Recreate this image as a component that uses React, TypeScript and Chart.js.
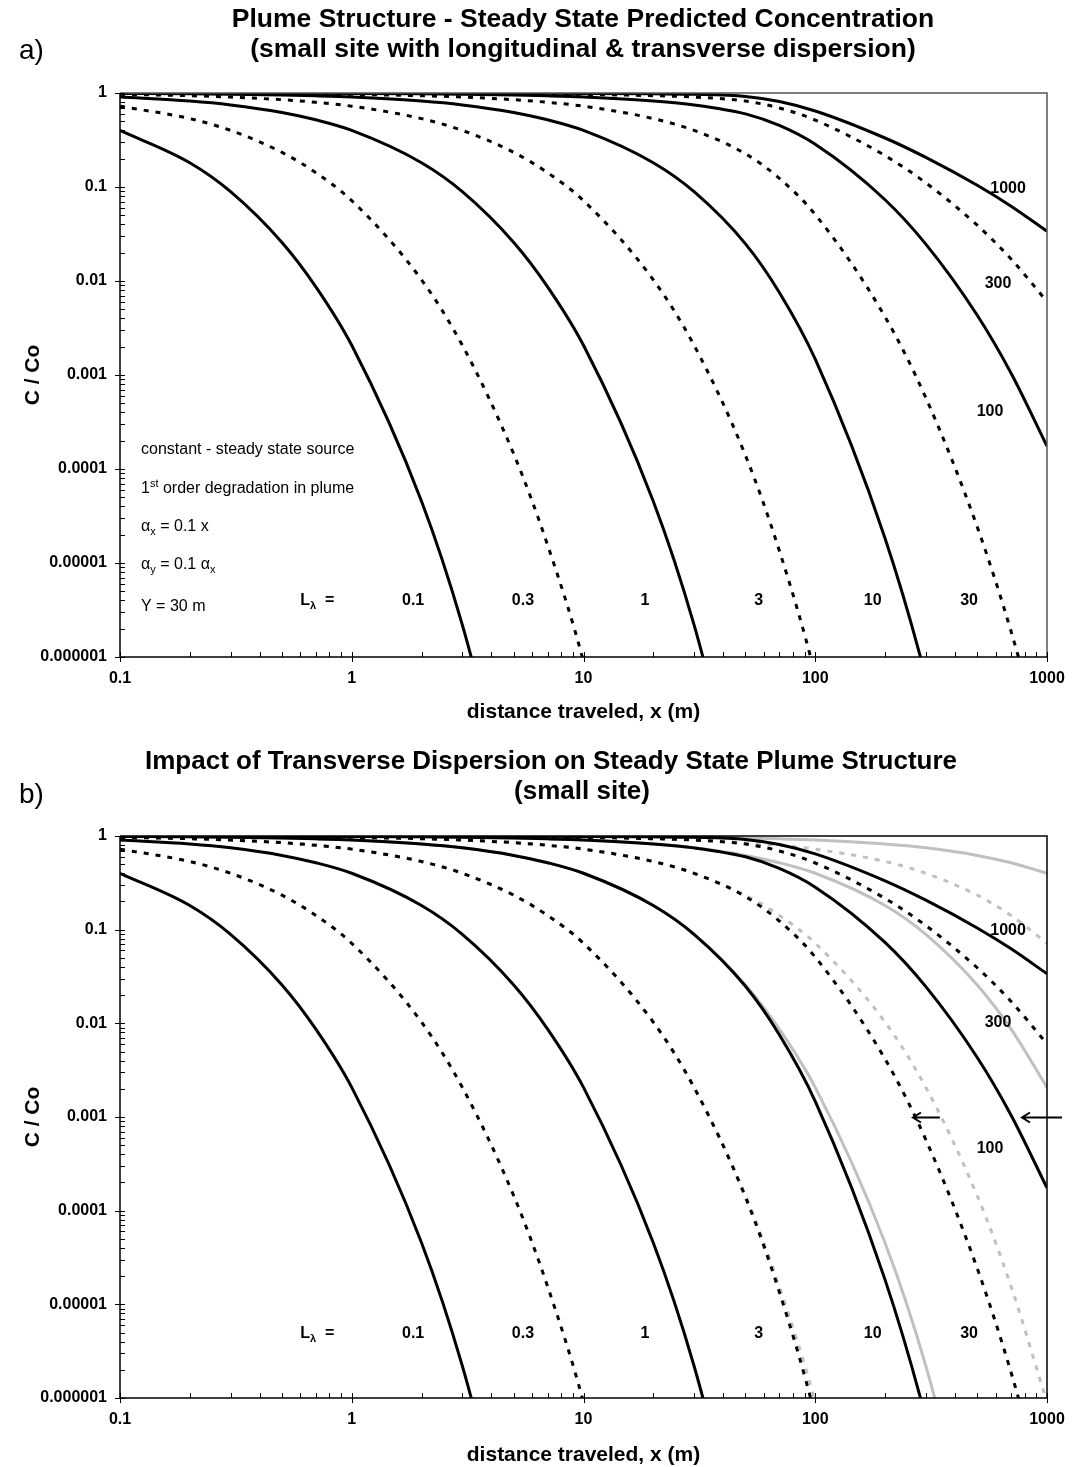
import React, { useEffect, useRef } from 'react';
import { Chart, registerables } from 'chart.js';

Chart.register(...registerables);

// distance traveled, x (m)
const xValues = [0.1, 0.2, 0.3, 0.5, 0.7, 1, 2, 3, 5, 7, 10, 20, 30, 50, 70, 100, 200, 300, 500, 700, 1000];

// C/Co with longitudinal & transverse dispersion (black curves), one per L_lambda
const cL0_1 = [0.4001, 0.1812, 0.08925, 0.02572, 0.008679, 0.00207, 4.54e-5, 2.199e-6, 1.665e-8, null, null, null, null, null, null, null, null, null, null, null, null];
const cL0_3 = [0.724, 0.534, 0.4001, 0.2334, 0.142, 0.07154, 0.01031, 0.00207, 1.442e-4, 1.553e-5, 8.93e-7, 5.6e-10, null, null, null, null, null, null, null, null, null];
const cL1 = [0.9057, 0.8219, 0.7472, 0.6205, 0.5185, 0.4001, 0.1812, 0.08925, 0.02572, 0.008679, 0.00207, 4.54e-5, 2.198e-6, 1.61e-8, null, null, null, null, null, null, null];
const cL3 = [0.9673, 0.9359, 0.9057, 0.8488, 0.796, 0.724, 0.534, 0.4001, 0.2334, 0.142, 0.07154, 0.01031, 0.002069, 1.393e-4, 1.352e-5, 6.35e-7, 2.3e-10, null, null, null, null];
const cL10 = [0.9901, 0.9802, 0.9705, 0.9515, 0.9329, 0.9057, 0.8219, 0.7472, 0.6205, 0.5185, 0.4001, 0.1812, 0.08921, 0.02485, 0.007553, 0.001472, 1.835e-5, 6.08e-7, 2.8e-9, null, null];
const cL30 = [0.9967, 0.9934, 0.9901, 0.9835, 0.977, 0.9673, 0.9359, 0.9057, 0.8488, 0.796, 0.724, 0.534, 0.3999, 0.2255, 0.1236, 0.05088, 0.004167, 5.72e-4, 2.423e-5, 1.87e-6, 7.54e-8];
const cL100 = [0.999, 0.998, 0.997, 0.995, 0.993, 0.9901, 0.9802, 0.9705, 0.9515, 0.9329, 0.9057, 0.8219, 0.7469, 0.5995, 0.4512, 0.2845, 0.07322, 0.02466, 0.004321, 0.001045, 1.749e-4];
const cL300 = [0.9997, 0.9993, 0.999, 0.9983, 0.9977, 0.9967, 0.9934, 0.9901, 0.9835, 0.977, 0.9673, 0.9359, 0.9053, 0.82, 0.6928, 0.5149, 0.2158, 0.1106, 0.03921, 0.0171, 0.006043];
const cL1000 = [0.9999, 0.9998, 0.9997, 0.9995, 0.9993, 0.999, 0.998, 0.997, 0.995, 0.993, 0.9901, 0.9802, 0.9701, 0.9192, 0.8119, 0.6441, 0.3321, 0.2065, 0.1042, 0.06243, 0.0338];

// C/Co without transverse dispersion (grey curves, panel b)
const gL3 = [0.9673, 0.9359, 0.9057, 0.8488, 0.796, 0.724, 0.534, 0.4001, 0.2334, 0.142, 0.07154, 0.01031, 0.00207, 1.442e-4, 1.553e-5, 8.93e-7, 5.6e-10, null, null, null, null];
const gL10 = [0.9901, 0.9802, 0.9705, 0.9515, 0.9329, 0.9057, 0.8219, 0.7472, 0.6205, 0.5185, 0.4001, 0.1812, 0.08925, 0.02572, 0.008679, 0.00207, 4.54e-5, 2.199e-6, 1.665e-8, null, null];
const gL30 = [0.9967, 0.9934, 0.9901, 0.9835, 0.977, 0.9673, 0.9359, 0.9057, 0.8488, 0.796, 0.724, 0.534, 0.4001, 0.2334, 0.142, 0.07154, 0.01031, 0.00207, 1.442e-4, 1.553e-5, 8.93e-7];
const gL100 = [0.999, 0.998, 0.997, 0.995, 0.993, 0.9901, 0.9802, 0.9705, 0.9515, 0.9329, 0.9057, 0.8219, 0.7472, 0.6205, 0.5185, 0.4001, 0.1812, 0.08925, 0.02572, 0.008679, 0.00207];
const gL300 = [0.9997, 0.9993, 0.999, 0.9983, 0.9977, 0.9967, 0.9934, 0.9901, 0.9835, 0.977, 0.9673, 0.9359, 0.9057, 0.8488, 0.796, 0.724, 0.534, 0.4001, 0.2334, 0.142, 0.07154];
const gL1000 = [0.9999, 0.9998, 0.9997, 0.9995, 0.9993, 0.999, 0.998, 0.997, 0.995, 0.993, 0.9901, 0.9802, 0.9705, 0.9515, 0.9329, 0.9057, 0.8219, 0.7472, 0.6205, 0.5185, 0.4001];

const xTickLabels = ['0.1', '1', '10', '100', '1000'];
const yTickLabels = ['0.000001', '0.00001', '0.0001', '0.001', '0.01', '0.1', '1'];

const rightLabels = ['1000', '300', '100'];
const bottomLabels = ['0.1', '0.3', '1', '3', '10', '30'];

const FONT = '"Liberation Sans", Arial, Helvetica, sans-serif';

type Part = { t: string; bold?: boolean; small?: boolean; dy?: number };

function drawRich(ctx: CanvasRenderingContext2D, parts: Part[], x: number, y: number, size: number, align: 'left' | 'center') {
  const fontOf = (p: Part) => `${p.bold ? 'bold ' : ''}${p.small ? Math.round(size * 0.68) : size}px ${FONT}`;
  let total = 0;
  for (const p of parts) { ctx.font = fontOf(p); total += ctx.measureText(p.t).width; }
  let cx = align === 'center' ? x - total / 2 : x;
  ctx.textAlign = 'left';
  ctx.textBaseline = 'alphabetic';
  for (const p of parts) {
    ctx.font = fontOf(p);
    ctx.fillText(p.t, cx, y + size * 0.36 + (p.dy || 0));
    cx += ctx.measureText(p.t).width;
  }
}

function isDecade(v: number) {
  const e = Math.log10(v);
  return Math.abs(e - Math.round(e)) < 1e-6;
}

type PanelCfg = {
  height: number;
  areaTop: number;
  bottomSpace: number;
  titles: string[];
  titleX: number[];
  titleY: number[];
  titleSize: number;
  letter: string;
  letterY: number;
  xTitleY: number;
  grey: boolean;
  rightLabelPos: [number, number][];
  bottomLabelY: number;
  notes: boolean;
  arrows: boolean;
  boxColor: string;
};

const bottomLabelX = [1.84, 5.48, 18.4, 57, 177, 461];
const lLambdaX = 0.71;

function makeConfig(p: PanelCfg): any {
  const black = [
    { v: cL0_1, d: false }, { v: cL0_3, d: true }, { v: cL1, d: false }, { v: cL3, d: true }, { v: cL10, d: false },
    { v: cL30, d: true }, { v: cL100, d: false }, { v: cL300, d: true }, { v: cL1000, d: false },
  ];
  const grey = [
    { v: gL3, d: true }, { v: gL10, d: false }, { v: gL30, d: true }, { v: gL100, d: false }, { v: gL300, d: true }, { v: gL1000, d: false },
  ];
  const mk = (s: { v: (number | null)[]; d: boolean }, color: string, order: number) => ({
    data: xValues.map((x, i) => ({ x, y: s.v[i] })),
    borderColor: color,
    borderWidth: 3,
    borderDash: s.d ? [5, 7] : [],
    borderCapStyle: 'butt',
    pointRadius: 0,
    fill: false,
    cubicInterpolationMode: 'monotone',
    order,
  });
  const datasets: any[] = black.map((s) => mk(s, '#000000', 0));
  if (p.grey) grey.forEach((s) => datasets.push(mk(s, '#c0c0c0', 1)));

  const overlay = {
    id: 'overlay',
    afterDraw(chart: any) {
      const ctx: CanvasRenderingContext2D = chart.ctx;
      const a = chart.chartArea;
      const xs = chart.scales.x;
      const ys = chart.scales.y;
      ctx.save();
      // box
      ctx.strokeStyle = p.boxColor;
      ctx.lineWidth = 1.5;
      ctx.beginPath();
      ctx.moveTo(a.left, a.top);
      ctx.lineTo(a.right, a.top);
      ctx.lineTo(a.right, a.bottom);
      ctx.stroke();
      // axes
      ctx.strokeStyle = '#000';
      ctx.lineWidth = 1.5;
      ctx.beginPath();
      ctx.moveTo(a.left, a.top);
      ctx.lineTo(a.left, a.bottom);
      ctx.lineTo(a.right, a.bottom);
      ctx.stroke();
      // tick marks
      ctx.lineWidth = 1;
      ctx.beginPath();
      for (let k = -6; k <= 0; k++) {
        for (let m = 1; m <= 9; m++) {
          const v = m * Math.pow(10, k);
          if (v > 1.0000001) break;
          const y = Math.round(ys.getPixelForValue(v)) + 0.5;
          ctx.moveTo(m === 1 ? a.left - 5 : a.left, y);
          ctx.lineTo(a.left + 5, y);
        }
      }
      for (let k = -1; k <= 3; k++) {
        for (let m = 1; m <= 9; m++) {
          const v = m * Math.pow(10, k);
          if (v > 1000.0001) break;
          const x = Math.round(xs.getPixelForValue(v)) + 0.5;
          ctx.moveTo(x, m === 1 ? a.bottom + 5 : a.bottom);
          ctx.lineTo(x, a.bottom - 5);
        }
      }
      ctx.stroke();

      ctx.fillStyle = '#000';
      // titles
      ctx.font = `bold ${p.titleSize}px ${FONT}`;
      ctx.textAlign = 'center';
      ctx.textBaseline = 'middle';
      p.titles.forEach((t, i) => ctx.fillText(t, p.titleX[i], p.titleY[i]));
      ctx.font = `28px ${FONT}`;
      ctx.textAlign = 'left';
      ctx.fillText(p.letter, 19, p.letterY);
      // axis titles
      const cx = (a.left + a.right) / 2;
      ctx.font = `bold 21px ${FONT}`;
      ctx.textAlign = 'center';
      ctx.fillText('distance traveled, x (m)', cx, p.xTitleY);
      ctx.save();
      ctx.translate(33, (a.top + a.bottom) / 2);
      ctx.rotate(-Math.PI / 2);
      ctx.fillText('C / Co', 0, 0);
      ctx.restore();

      // curve labels
      rightLabels.forEach((t, i) => {
        const [lx, ly] = p.rightLabelPos[i];
        drawRich(ctx, [{ t, bold: true }], xs.getPixelForValue(lx), ys.getPixelForValue(ly), 16, 'center');
      });
      const by = ys.getPixelForValue(p.bottomLabelY);
      bottomLabels.forEach((t, i) => {
        drawRich(ctx, [{ t, bold: true }], xs.getPixelForValue(bottomLabelX[i]), by, 16, 'center');
      });
      drawRich(ctx, [{ t: 'L', bold: true }, { t: 'λ', bold: true, small: true, dy: 4 }, { t: '  =', bold: true }], xs.getPixelForValue(lLambdaX), by, 16, 'center');

      if (p.notes) {
        const nx = a.left + 21;
        const notes: [Part[], number][] = [
          [[{ t: 'constant - steady state source' }], 355],
          [[{ t: '1' }, { t: 'st', small: true, dy: -6 }, { t: ' order degradation in plume' }], 394],
          [[{ t: 'α' }, { t: 'x', small: true, dy: 4 }, { t: ' = 0.1 x' }], 432],
          [[{ t: 'α' }, { t: 'y', small: true, dy: 4 }, { t: ' = 0.1 α' }, { t: 'x', small: true, dy: 4 }], 470],
          [[{ t: 'Y = 30 m' }], 512],
        ];
        notes.forEach(([parts, dy]) => drawRich(ctx, parts, nx, a.top + dy, 16, 'left'));
      }

      if (p.arrows) {
        const arrowDefs: [number, number][] = [[345, 264], [1161, 780]];
        const ay = Math.round(ys.getPixelForValue(0.001)) + 0.5;
        ctx.strokeStyle = '#000';
        ctx.lineWidth = 2;
        arrowDefs.forEach(([from, to]) => {
          const x0 = xs.getPixelForValue(from);
          const x1 = xs.getPixelForValue(to);
          ctx.beginPath();
          ctx.moveTo(x0, ay);
          ctx.lineTo(x1, ay);
          ctx.moveTo(x1 + 8, ay - 5);
          ctx.lineTo(x1, ay);
          ctx.lineTo(x1 + 8, ay + 5);
          ctx.stroke();
        });
      }
      ctx.restore();
    },
  };

  const tickFont = { family: FONT, size: 16, weight: 'bold' };
  return {
    type: 'line',
    data: { datasets },
    options: {
      responsive: false,
      animation: false,
      events: [],
      layout: { padding: { top: p.areaTop, right: 25, left: 0, bottom: 0 } },
      plugins: { legend: { display: false }, tooltip: { enabled: false }, title: { display: false } },
      scales: {
        x: {
          type: 'logarithmic',
          min: 0.1,
          max: 1000,
          position: 'bottom',
          grid: { display: false, drawTicks: false },
          border: { display: false },
          ticks: {
            autoSkip: false,
            maxRotation: 0,
            padding: 12,
            color: '#000',
            font: tickFont,
            callback: (v: number) => (isDecade(v) ? xTickLabels[Math.round(Math.log10(v)) + 1] : ''),
          },
          afterFit: (s: any) => { s.height = p.bottomSpace; s.paddingLeft = 0; s.paddingRight = 0; },
        },
        y: {
          type: 'logarithmic',
          min: 0.000001,
          max: 1,
          position: 'left',
          grid: { display: false, drawTicks: false },
          border: { display: false },
          ticks: {
            autoSkip: false,
            padding: 13,
            color: '#000',
            font: tickFont,
            callback: (v: number) => (isDecade(v) ? yTickLabels[Math.round(Math.log10(v)) + 6] : ''),
          },
          afterFit: (s: any) => { s.width = 120; s.paddingTop = 0; s.paddingBottom = 0; },
        },
      },
    },
    plugins: [overlay],
  };
}

const panelA: PanelCfg = {
  height: 733,
  areaTop: 93,
  bottomSpace: 76,
  titles: ['Plume Structure - Steady State Predicted Concentration', '(small site with longitudinal & transverse dispersion)'],
  titleX: [583, 583],
  titleY: [20, 50],
  titleSize: 26.5,
  letter: 'a)',
  letterY: 51,
  xTitleY: 712,
  grey: false,
  rightLabelPos: [[679, 0.1], [615, 0.0098], [568, 0.00042]],
  bottomLabelY: 0.0000041,
  notes: true,
  arrows: false,
  boxColor: '#555555',
};

const panelB: PanelCfg = {
  height: 734,
  areaTop: 103,
  bottomSpace: 69,
  titles: ['Impact of Transverse Dispersion on Steady State Plume Structure', '(small site)'],
  titleX: [551, 582],
  titleY: [29, 59],
  titleSize: 26,
  letter: 'b)',
  letterY: 62,
  xTitleY: 722,
  grey: true,
  rightLabelPos: [[679, 0.1], [615, 0.0106], [568, 0.00048]],
  bottomLabelY: 0.000005,
  notes: false,
  arrows: true,
  boxColor: '#000000',
};

function Panel({ cfg, top }: { cfg: PanelCfg; top: number }) {
  const ref = useRef<HTMLCanvasElement>(null);
  useEffect(() => {
    if (!ref.current) return;
    const chart = new Chart(ref.current, makeConfig(cfg));
    return () => chart.destroy();
  }, [cfg]);
  return (
    <canvas
      ref={ref}
      width={1072}
      height={cfg.height}
      style={{ position: 'absolute', left: 0, top, width: 1072, height: cfg.height }}
    />
  );
}

export default function App() {
  return (
    <div style={{ position: 'absolute', left: 0, top: 0, width: 1072, height: 1467, background: '#fff' }}>
      <Panel cfg={panelA} top={0} />
      <Panel cfg={panelB} top={733} />
    </div>
  );
}
